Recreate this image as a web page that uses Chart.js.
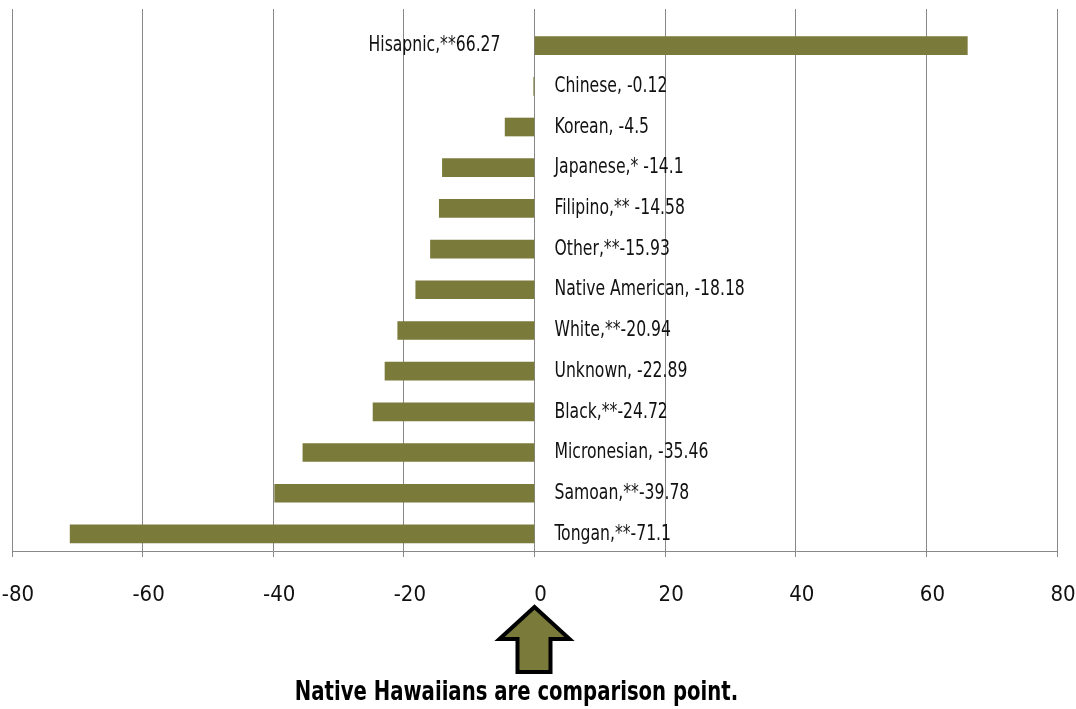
<!DOCTYPE html>
<html>
<head>
<meta charset="utf-8">
<script src="https://cdn.jsdelivr.net/npm/chart.js@4"></script>
<style>
  html, body { margin: 0; padding: 0; background: #fff; }
  #wrap { width: 1076px; height: 709px; }
</style>
</head>
<body>
<div id="wrap"><canvas id="gapChart" width="1076" height="709"></canvas></div>
<script>
// categories as written in the data labels (text before the number)
const groups = [
	'Hisapnic,**', 'Chinese, ', 'Korean, ', 'Japanese,* ', 'Filipino,** ',
	'Other,**', 'Native American, ', 'White,**', 'Unknown, ', 'Black,**',
	'Micronesian, ', 'Samoan,**', 'Tongan,**'
]
const gaps = [66.27, -0.12, -4.5, -14.1, -14.58, -15.93, -18.18, -20.94, -22.89, -24.72, -35.46, -39.78, -71.1]
const xTicks = [-80, -60, -40, -20, 0, 20, 40, 60, 80]
const caption = 'Native Hawaiians are comparison point.'

const FONT = '"DejaVu Sans Condensed", "Liberation Sans Narrow", "Arial Narrow", sans-serif'
const OLIVE = '#7a7a3b'

// squeezed text, the original uses a tall condensed face
const narrowText = (ctx, txt, x, y, squeeze) => {
	ctx.save()
	ctx.translate(x, y)
	ctx.scale(squeeze, 1)
	ctx.fillText(txt, 0, 0)
	ctx.restore()
}

// labels next to zero line + arrow with caption under the axis
const labelPlugin = {
	id: 'gapLabels',
	afterDatasetsDraw(chart) {
		const ctx = chart.ctx
		const zero = chart.scales.x.getPixelForValue(0)
		const meta = chart.getDatasetMeta(0)
		ctx.save()
		ctx.font = '22px ' + FONT
		ctx.fillStyle = '#111'
		ctx.textBaseline = 'middle'
		meta.data.forEach((bar, i) => {
			const txt = groups[i] + gaps[i]
			if (gaps[i] >= 0) {
				ctx.textAlign = 'right'
				narrowText(ctx, txt, zero - 34, bar.y, 0.79)
			} else {
				ctx.textAlign = 'left'
				narrowText(ctx, txt, zero + 20, bar.y, 0.79)
			}
		})
		ctx.restore()
	},
	afterDraw(chart) {
		const ctx = chart.ctx
		const zero = chart.scales.x.getPixelForValue(0)
		const top = chart.chartArea.bottom + 56
		ctx.save()
		ctx.beginPath()
		ctx.moveTo(zero, top)
		ctx.lineTo(zero + 35, top + 32)
		ctx.lineTo(zero + 16, top + 32)
		ctx.lineTo(zero + 16, top + 65)
		ctx.lineTo(zero - 17, top + 65)
		ctx.lineTo(zero - 17, top + 32)
		ctx.lineTo(zero - 35, top + 32)
		ctx.closePath()
		ctx.fillStyle = OLIVE
		ctx.fill()
		ctx.lineWidth = 4
		ctx.lineJoin = 'miter'
		ctx.strokeStyle = '#000'
		ctx.stroke()

		ctx.font = 'bold 27px ' + FONT
		ctx.fillStyle = '#000'
		ctx.textAlign = 'center'
		ctx.textBaseline = 'alphabetic'
		narrowText(ctx, caption, zero - 18, chart.chartArea.bottom + 149, 0.81)
		ctx.restore()
	}
}

const ctx = document.getElementById('gapChart').getContext('2d')
const gapChart = new Chart(ctx, {
	type: 'bar',
	data: {
		datasets: [
			{
				data: gaps.map((v, i) => ({ x: v, y: i })),
				backgroundColor: OLIVE,
				borderWidth: 0,
				barThickness: 18,
			},
		],
	},
	options: {
		indexAxis: 'y',
		responsive: false,
		animation: false,
		layout: {
			padding: { left: 12, right: 19, top: 9, bottom: 75.6 },
		},
		plugins: {
			legend: { display: false },
			tooltip: { enabled: false },
		},
		scales: {
			x: {
				type: 'linear',
				min: -80,
				max: 80,
				afterBuildTicks: scale => {
					scale.ticks = xTicks.map(v => ({ value: v }))
				},
				afterFit: scale => {
					scale.paddingLeft = 0
					scale.paddingRight = 0
				},
				grid: {
					color: '#888',
					lineWidth: 1,
					tickLength: 6,
				},
				border: { color: '#888' },
				ticks: {
					color: '#111',
					padding: 25,
					labelOffset: 6,
					font: { family: FONT, size: 22 },
				},
			},
			y: {
				type: 'linear',
				reverse: true,
				offset: false,
				min: -0.9,
				max: 12.42,
				display: false,
			},
		},
	},
	plugins: [labelPlugin],
})
</script>
</body>
</html>
